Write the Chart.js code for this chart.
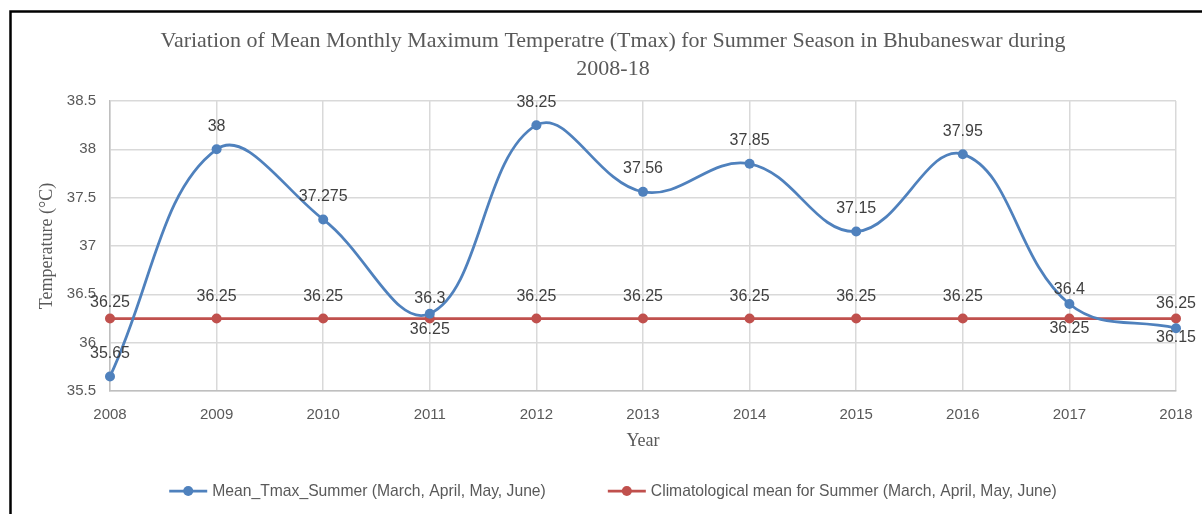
<!DOCTYPE html>
<html>
<head>
<meta charset="utf-8">
<script src="https://cdn.jsdelivr.net/npm/chart.js@4.4.1/dist/chart.umd.min.js"></script>
<style>
  html, body { margin: 0; padding: 0; background: #fff; }
</style>
</head>
<body>
<canvas id="tmaxChart" width="1202" height="514"></canvas>
<script>
const years = ['2008', '2009', '2010', '2011', '2012', '2013', '2014', '2015', '2016', '2017', '2018'];
const meanTmax = [35.65, 38, 37.275, 36.3, 38.25, 37.56, 37.85, 37.15, 37.95, 36.4, 36.15];
const climMean = [36.25, 36.25, 36.25, 36.25, 36.25, 36.25, 36.25, 36.25, 36.25, 36.25, 36.25];
const yMin = 35.5, yMax = 38.5, yStep = 0.5;

const seriesNames = ['Mean_Tmax_Summer (March, April, May, June)', 'Climatological mean for Summer (March, April, May, June)'];
const blue = '#4f81bd';
const red = '#c0504d';
const textGrey = '#595959';

// label offsets (vertical, px) where Excel put them somewhere other than straight above
const labelShift = [
    { 3: -15, 9: -14, 10: 9 },
    { 0: -16, 3: 11, 9: 10, 10: -15 }
];

const frame = {
    id: 'frame',
    beforeDraw(chart) {
        const ctx = chart.ctx;
        ctx.save();
        ctx.fillStyle = '#fff';
        ctx.fillRect(0, 0, chart.width, chart.height);
        ctx.strokeStyle = '#000';
        ctx.lineWidth = 2.5;
        ctx.beginPath();
        ctx.moveTo(10.5, chart.height);
        ctx.lineTo(10.5, 11.5);
        ctx.lineTo(chart.width, 11.5);
        ctx.stroke();
        ctx.restore();
    }
};

const valueLabels = {
    id: 'valueLabels',
    afterDatasetsDraw(chart) {
        const ctx = chart.ctx;
        ctx.save();
        ctx.font = '16px "Liberation Sans", Arial, sans-serif';
        ctx.fillStyle = '#404040';
        ctx.textAlign = 'center';
        ctx.textBaseline = 'middle';
        chart.data.datasets.forEach((ds, i) => {
            const meta = chart.getDatasetMeta(i);
            meta.data.forEach((pt, j) => {
                let dy = labelShift[i][j];
                if (dy === undefined) dy = i === 0 ? -23 : -22;
                ctx.fillText(String(ds.data[j]), pt.x, pt.y + dy);
            });
        });
        ctx.restore();
    }
};

const bottomLegend = {
    id: 'bottomLegend',
    afterDraw(chart) {
        const ctx = chart.ctx;
        const y = 491, lineW = 38, gap = 5, itemGap = 62, cx = 613;
        ctx.save();
        ctx.font = '15.7px "Liberation Sans", Arial, sans-serif';
        ctx.textBaseline = 'middle';
        const items = chart.data.datasets.map(ds => ({
            text: ds.label, color: ds.borderColor, w: lineW + gap + ctx.measureText(ds.label).width
        }));
        const total = items.reduce((s, it) => s + it.w, 0) + itemGap * (items.length - 1);
        let x = cx - total / 2;
        items.forEach(it => {
            ctx.strokeStyle = it.color;
            ctx.lineWidth = 2.75;
            ctx.beginPath();
            ctx.moveTo(x, y);
            ctx.lineTo(x + lineW, y);
            ctx.stroke();
            ctx.fillStyle = it.color;
            ctx.beginPath();
            ctx.arc(x + lineW / 2, y, 5, 0, Math.PI * 2);
            ctx.fill();
            ctx.fillStyle = textGrey;
            ctx.textAlign = 'left';
            ctx.fillText(it.text, x + lineW + gap, y + 1);
            x += it.w + itemGap;
        });
        ctx.restore();
    }
};

new Chart(document.getElementById('tmaxChart'), {
    type: 'line',
    data: {
        labels: years,
        datasets: [{
            label: seriesNames[0],
            data: meanTmax,
            borderColor: blue,
            backgroundColor: blue,
            borderWidth: 2.75,
            pointRadius: 5,
            pointHoverRadius: 5,
            pointBorderWidth: 0,
            tension: 0.4,
            fill: false
        }, {
            label: seriesNames[1],
            data: climMean,
            borderColor: red,
            backgroundColor: red,
            borderWidth: 2.75,
            pointRadius: 5,
            pointHoverRadius: 5,
            pointBorderWidth: 0,
            tension: 0,
            fill: false
        }]
    },
    options: {
        responsive: false,
        animation: false,
        devicePixelRatio: 1,
        layout: { padding: { left: 50, right: 26, top: 0, bottom: 0 } },
        plugins: {
            legend: { display: false },
            tooltip: { enabled: false },
            title: {
                display: true,
                text: ['Variation of Mean Monthly Maximum Temperatre (Tmax) for Summer Season in Bhubaneswar during', '2008-18'],
                color: textGrey,
                font: { family: '"Liberation Serif", "Times New Roman", serif', size: 22, weight: 'normal', lineHeight: '28px' },
                padding: { top: 27, bottom: 18 }
            }
        },
        scales: {
            x: {
                offset: false,
                grid: { color: '#d9d9d9', drawTicks: false, lineWidth: 1.5 },
                border: { color: '#bfbfbf', width: 1.5 },
                ticks: {
                    color: textGrey,
                    padding: 15,
                    maxRotation: 0,
                    font: { family: '"Liberation Sans", Arial, sans-serif', size: 15 }
                },
                title: {
                    display: true,
                    text: 'Year',
                    color: textGrey,
                    font: { family: '"Liberation Serif", "Times New Roman", serif', size: 18 },
                    padding: { top: 2, bottom: 62 }
                },
                afterFit(scale) {
                    scale.height = 123;
                    scale.paddingRight = 20;
                }
            },
            y: {
                min: yMin,
                max: yMax,
                grid: { color: '#d9d9d9', drawTicks: false, lineWidth: 1.5 },
                border: { color: '#bfbfbf', width: 1.5 },
                ticks: {
                    stepSize: yStep,
                    color: textGrey,
                    padding: 14,
                    font: { family: '"Liberation Sans", Arial, sans-serif', size: 15 },
                    callback: v => String(+v.toFixed(1))
                },
                title: {
                    display: true,
                    text: 'Temperature (°C)',
                    color: textGrey,
                    font: { family: '"Liberation Serif", "Times New Roman", serif', size: 18 },
                    padding: { top: -14, bottom: 0 }
                },
                afterFit(scale) { scale.width = 60; }
            }
        }
    },
    plugins: [frame, valueLabels, bottomLegend]
});
</script>
</body>
</html>
